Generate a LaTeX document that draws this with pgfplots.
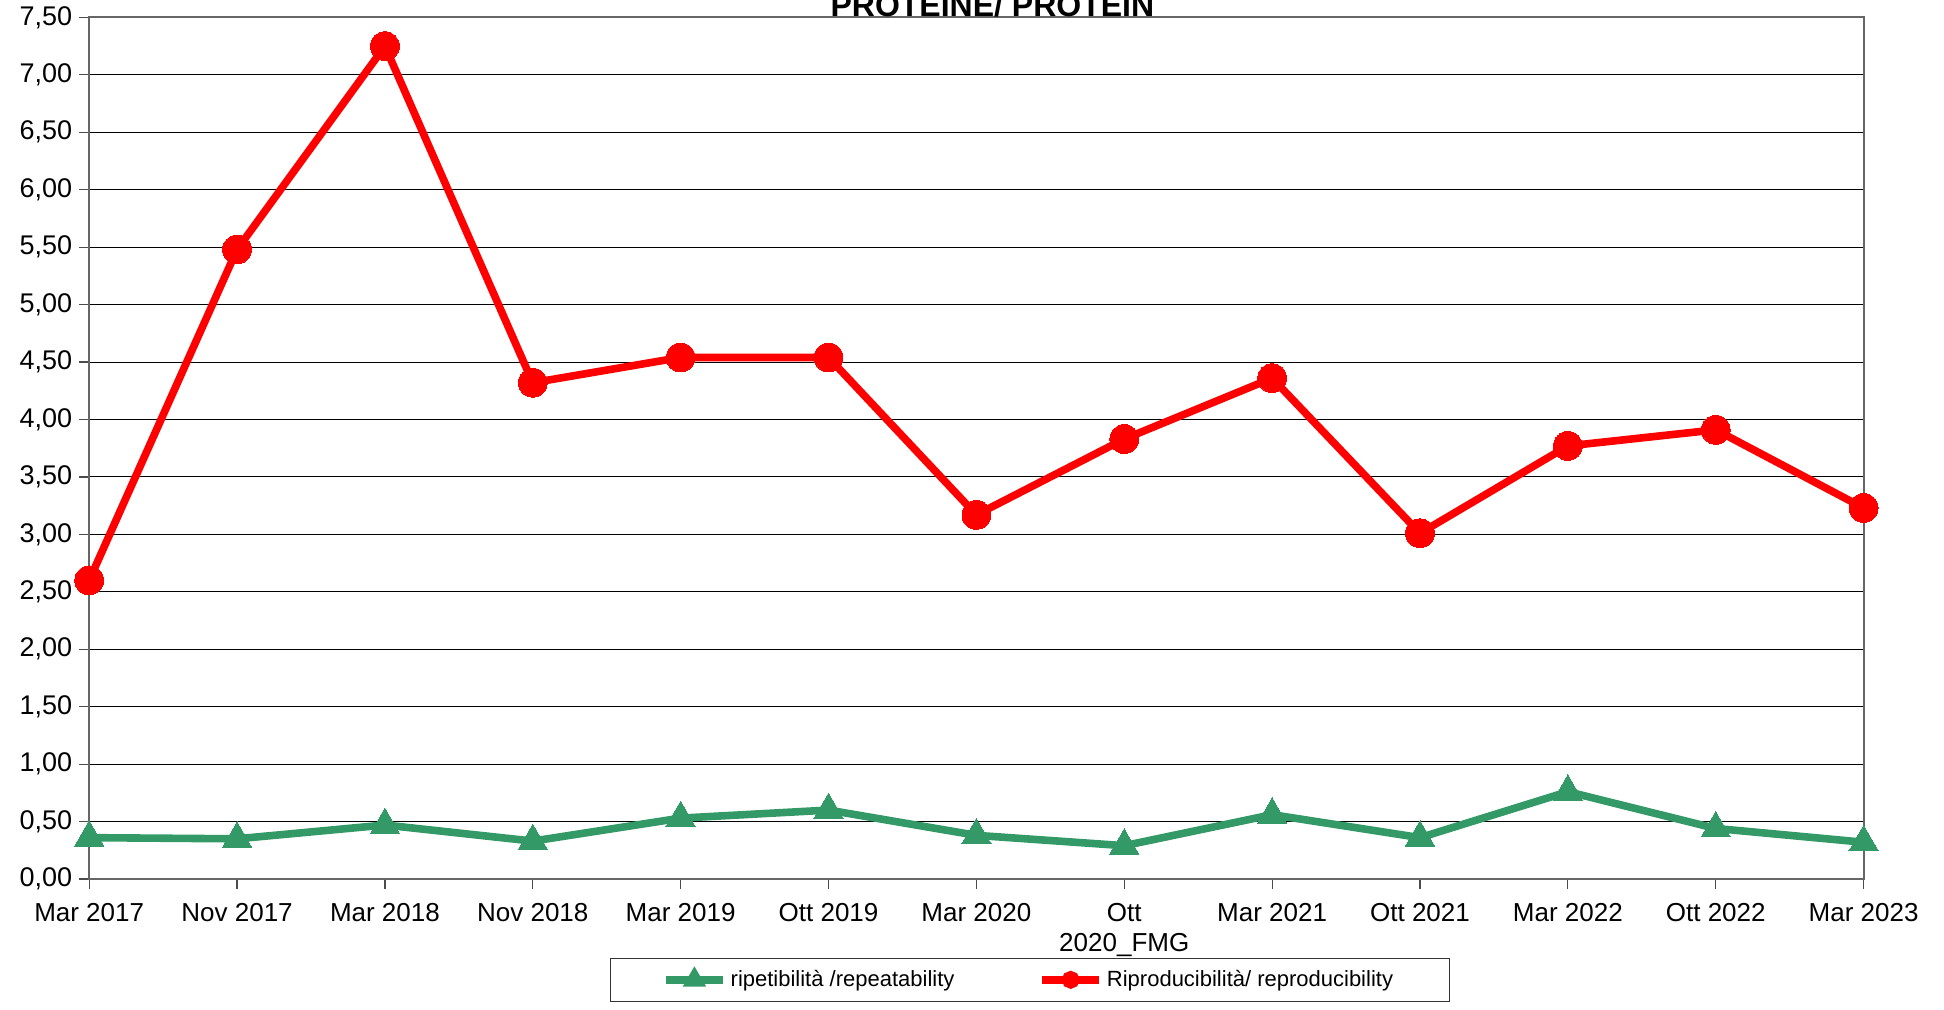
\documentclass[border=0pt]{standalone}
\usepackage{pgfplots}
\pgfplotsset{compat=1.18}
\usepackage{fontspec}
\setmainfont{Liberation Sans}
\definecolor{rgreen}{RGB}{51,153,102}
\definecolor{rred}{RGB}{255,0,0}
\begin{document}
\begin{tikzpicture}
\begin{axis}[
  scale only axis,
  width=887.2pt, height=430.8pt,
  xmin=0, xmax=12, ymin=0, ymax=7.5,
  xtick={0,...,12},
  xticklabels={Mar 2017,Nov 2017,Mar 2018,Nov 2018,Mar 2019,Ott 2019,Mar 2020,{Ott\\2020\_FMG},Mar 2021,Ott 2021,Mar 2022,Ott 2022,Mar 2023},
  xticklabel style={align=center, font=\fontsize{13}{15}\selectfont, yshift=-3.5pt},
  ytick={0,0.5,...,7.5},
  yticklabel style={font=\fontsize{13.5}{15}\selectfont},
  /pgf/number format/.cd, fixed, fixed zerofill, precision=2, use comma, assume math mode=true,
  /pgfplots/.cd,
  xtick pos=bottom, ytick pos=left,
  tick align=outside,
  major tick length=5pt,
  tick style={black!70, line width=0.6pt},
  axis line style={black!60, line width=1pt},
  ymajorgrids,
  grid style={black, line width=0.55pt},
  legend style={at={(0.53,-0.117)}, anchor=center, draw=black!80, line width=0.6pt,
    font=\fontsize{11}{13}\selectfont, legend columns=2,
    /tikz/every even column/.append style={column sep=40pt},
    inner xsep=26pt, inner ysep=4pt},
  legend image code/.code={
    \draw[#1, mark=none] (0cm,0cm) -- (1.0cm,0cm);
    \draw[#1, only marks, mark options={scale=0.35}] plot coordinates {(0.5cm,0cm)};
  },
  clip=false,
]
\addplot[color=rgreen, line width=3.8pt, mark=triangle*, mark size=8.5pt, mark options={line width=0pt, solid}] coordinates {
(0,0.36) (1,0.35) (2,0.47) (3,0.33) (4,0.53) (5,0.60) (6,0.38) (7,0.29) (8,0.56) (9,0.36) (10,0.76) (11,0.44) (12,0.32)
};
\addlegendentry{ripetibilità /repeatability}
\addplot[color=rred, line width=3.8pt, mark=*, mark size=7.2pt, mark options={line width=0pt, solid}] coordinates {
(0,2.60) (1,5.48) (2,7.25) (3,4.32) (4,4.54) (5,4.54) (6,3.17) (7,3.83) (8,4.36) (9,3.01) (10,3.77) (11,3.91) (12,3.23)
};
\addlegendentry{Riproducibilità/ reproducibility}
\node[anchor=base, font=\bfseries\fontsize{16}{18}\selectfont] at (rel axis cs:0.509,1) [yshift=0.6pt] {PROTEINE/ PROTEIN};
\end{axis}
\pgfresetboundingbox
\path (-44.6pt,-65pt) rectangle (927.4pt,439.5pt);
\end{tikzpicture}
\end{document}
